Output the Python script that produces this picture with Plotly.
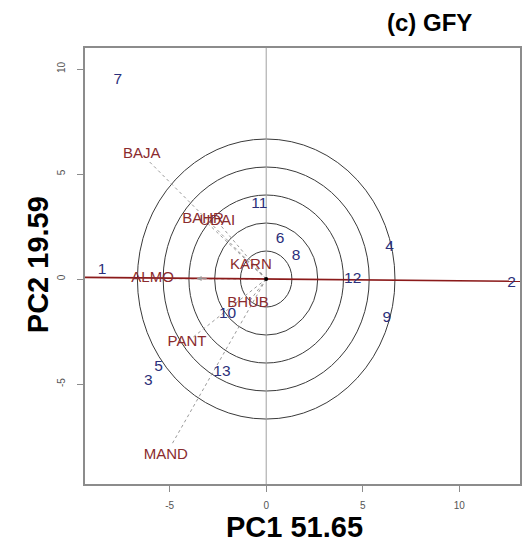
import plotly.graph_objects as go

# Genotype scores (PC1, PC2)
genotypes = ["1", "2", "3", "4", "5", "6", "7", "8", "9", "10", "11", "12", "13"]
gen_pc1 = [-8.5, 12.7, -6.1, 6.39, -5.57, 0.72, -7.68, 1.55, 6.24, -2.0, -0.36, 4.48, -2.29]
gen_pc2 = [0.43, -0.2, -4.86, 1.52, -4.21, 1.9, 9.48, 1.10, -1.86, -1.67, 3.57, 0.0, -4.43]

# Environment scores (PC1, PC2)
environments = ["BAJA", "BAHR", "UDAI", "KARN", "ALMO", "BHUB", "PANT", "MAND"]
env_pc1 = [-6.44, -3.27, -2.53, -0.79, -5.88, -0.94, -4.1, -5.2]
env_pc2 = [5.95, 2.86, 2.74, 0.67, 0.02, -1.15, -3.0, -8.38]

# Concentric circle radii around the origin
circle_radii = [1.333, 2.667, 4.0, 5.333, 6.667]

# Average-environment axis end points
aec_pc1 = [-9.4, 13.2]
aec_pc2 = [0.08, -0.11]

x_range = [-9.38, 13.14]
y_range = [-9.76, 11.0]

gen_color = "#2b2f7a"
env_color = "#8a2b2e"
font_family = "Liberation Sans, Arial, sans-serif"

fig = go.Figure()

# environment vectors from the origin
for ex, ey in zip(env_pc1, env_pc2):
    fig.add_trace(go.Scatter(
        x=[0, ex * 0.94], y=[0, ey * 0.94], mode="lines",
        line=dict(color="#9a9a9a", width=1, dash="dot"),
        hoverinfo="skip", showlegend=False))

# vertical reference line at PC1 = 0
fig.add_trace(go.Scatter(
    x=[0, 0], y=y_range, mode="lines",
    line=dict(color="#a0a0a0", width=1),
    hoverinfo="skip", showlegend=False))

# average-environment axis
fig.add_trace(go.Scatter(
    x=aec_pc1, y=aec_pc2, mode="lines",
    line=dict(color="#8b1a1a", width=1.6),
    hoverinfo="skip", showlegend=False))

# origin marker
fig.add_trace(go.Scatter(
    x=[0], y=[0], mode="markers",
    marker=dict(color="black", size=4),
    hoverinfo="skip", showlegend=False))

# genotype labels
fig.add_trace(go.Scatter(
    x=gen_pc1, y=gen_pc2, mode="text", text=genotypes,
    textfont=dict(family=font_family, size=15.5, color=gen_color),
    hoverinfo="skip", showlegend=False))

# environment labels
fig.add_trace(go.Scatter(
    x=env_pc1, y=env_pc2, mode="text", text=environments,
    textfont=dict(family=font_family, size=15, color=env_color),
    hoverinfo="skip", showlegend=False))

shapes = []
for r in circle_radii:
    shapes.append(dict(
        type="circle", xref="x", yref="y",
        x0=-r, y0=-r, x1=r, y1=r,
        line=dict(color="#3a3a3a", width=1), layer="below"))

annotations = [
    dict(text="<b>(c) GFY</b>", xref="paper", yref="paper",
         x=(431 - 85) / 437, y=(484 - 22) / 436,
         showarrow=False, xanchor="center", yanchor="middle",
         font=dict(family=font_family, size=24, color="black")),
    dict(text="<b>PC1 51.65</b>", xref="paper", yref="paper",
         x=(295 - 85) / 437, y=-(527 - 484) / 436,
         showarrow=False, xanchor="center", yanchor="middle",
         font=dict(family=font_family, size=29, color="black")),
    dict(text="<b>PC2 19.59</b>", xref="paper", yref="paper",
         x=-(85 - 38) / 437, y=(484 - 265) / 436, textangle=-90,
         showarrow=False, xanchor="center", yanchor="middle",
         font=dict(family=font_family, size=29, color="black")),
    # arrow head on the average-environment axis
    dict(x=-3.6, y=0.03, ax=-3.0, ay=0.03, xref="x", yref="y", axref="x", ayref="y",
         text="", showarrow=True, arrowhead=2, arrowsize=1, arrowwidth=1,
         arrowcolor="#9a9a9a"),
]

axis_common = dict(
    showgrid=False, zeroline=False, showline=True, mirror=True,
    linecolor="#8c8c8c", linewidth=1.5,
    ticks="outside", ticklen=6, tickcolor="#8c8c8c", tickwidth=1,
    tickfont=dict(family=font_family, size=10, color="#555555"),
    tickvals=[-5, 0, 5, 10], ticktext=["-5", "0", "5", "10"],
)

fig.update_layout(
    width=532, height=543,
    margin=dict(l=85, r=10, t=48, b=59),
    paper_bgcolor="white", plot_bgcolor="white",
    xaxis=dict(range=x_range, ticklabelstandoff=5, **axis_common),
    yaxis=dict(range=y_range, tickangle=-90, ticklabelstandoff=8, **axis_common),
    shapes=shapes, annotations=annotations, showlegend=False,
)

fig.write_html("out.html")
